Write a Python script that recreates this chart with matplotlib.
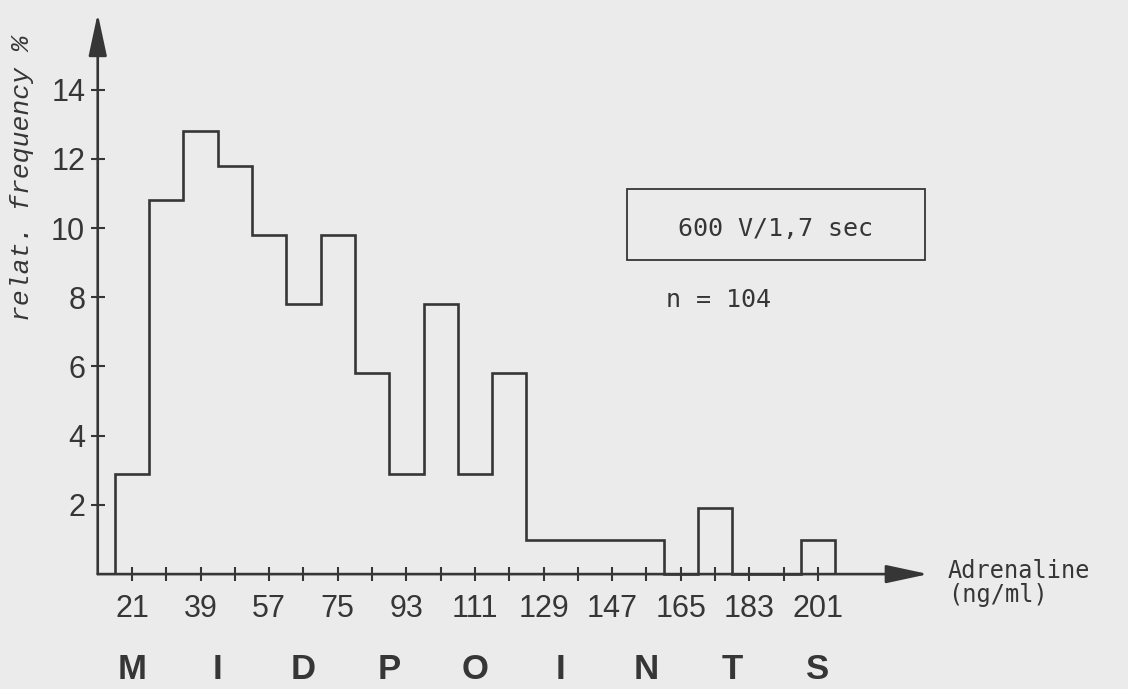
import numpy as np
import matplotlib
matplotlib.use('Agg')
import matplotlib.pyplot as plt
from matplotlib.patches import Rectangle

# histogram of adrenaline values, bins of 9 ng/ml
midpoints = [21, 30, 39, 48, 57, 66, 75, 84, 93, 102, 111,
             120, 129, 138, 147, 156, 165, 174, 183, 192, 201]
rel_freq = [2.9, 10.8, 12.8, 11.8, 9.8, 7.8, 9.8, 5.8, 2.9, 7.8, 2.9,
            5.8, 1.0, 1.0, 1.0, 1.0, 0.0, 1.9, 0.0, 0.0, 1.0]
x_labels = [21, 39, 57, 75, 93, 111, 129, 147, 165, 183, 201]
y_ticks = [2, 4, 6, 8, 10, 12, 14]
bin_width = 9
title_word = "MIDPOINTS"

paper = "#ebebeb"
ink = "#363636"
sans = ["Liberation Sans", "DejaVu Sans"]
mono = ["DejaVu Sans Mono"]

fig = plt.figure(figsize=(11.28, 6.89), dpi=100, facecolor=paper)
ax = fig.add_axes([0, 0, 1, 1], facecolor=paper)
ax.set_xlim(-13.65, 282.4)
ax.set_ylim(-3.32, 16.59)

mids = np.array(midpoints, dtype=float)
edges = np.append(mids - bin_width / 2, mids[-1] + bin_width / 2)
ax.stairs(rel_freq, edges, baseline=0, color=ink, lw=1.9)

# axes drawn as arrows, spines only used to place the ticks
y_axis_x = 12
for s in ax.spines.values():
    s.set_visible(False)
ax.spines["left"].set_position(("data", y_axis_x))
ax.spines["bottom"].set_position(("data", 0))

arrow = dict(arrowstyle="-|>,head_length=1.3,head_width=0.28", color=ink,
             lw=1.9, shrinkA=0, shrinkB=0, mutation_scale=20)
ax.annotate("", xy=(y_axis_x, 16.2), xytext=(y_axis_x, 0), arrowprops=arrow)
ax.annotate("", xy=(230, 0), xytext=(y_axis_x, 0), arrowprops=arrow)

ax.set_xticks(x_labels, [str(v) for v in x_labels], fontsize=22,
              family=sans, color=ink)
ax.set_xticks(midpoints, minor=True)
ax.set_yticks(y_ticks, [str(v) for v in y_ticks], fontsize=22,
              family=sans, color=ink)
ax.tick_params(axis="both", which="both", direction="inout", length=10,
               width=1.5, color=ink)
ax.tick_params(axis="x", pad=9)
ax.tick_params(axis="y", pad=4)

# texts
ax.text(22 / 1128, 1 - 178 / 689, "relat. frequency %", rotation=90,
        transform=ax.transAxes, ha="center", va="center", fontsize=19,
        family=["Liberation Mono"], style="italic", color=ink)

ax.add_patch(Rectangle((627 / 1128, 1 - 260 / 689), 298 / 1128, 71 / 689,
                       transform=ax.transAxes, fill=False, ec=ink, lw=1.3))
ax.text(776 / 1128, 1 - 229 / 689, "600 V/1,7 sec", transform=ax.transAxes,
        ha="center", va="center", fontsize=18, family=mono, color=ink)
ax.text(666 / 1128, 1 - 300 / 689, "n = 104", transform=ax.transAxes,
        ha="left", va="center", fontsize=18, family=mono, color=ink)

ax.text(948 / 1128, 1 - 583 / 689, "Adrenaline\n(ng/ml)",
        transform=ax.transAxes, ha="left", va="center", fontsize=17,
        family=mono, color=ink, linespacing=1.05)

for xpos, ch in zip(np.linspace(midpoints[0], midpoints[-1], len(title_word)),
                    title_word):
    ax.text(xpos, -2.75, ch, ha="center", va="center", fontsize=25,
            fontweight="bold", family=sans, color=ink)

fig.savefig("out.png", dpi=100, facecolor=paper)
